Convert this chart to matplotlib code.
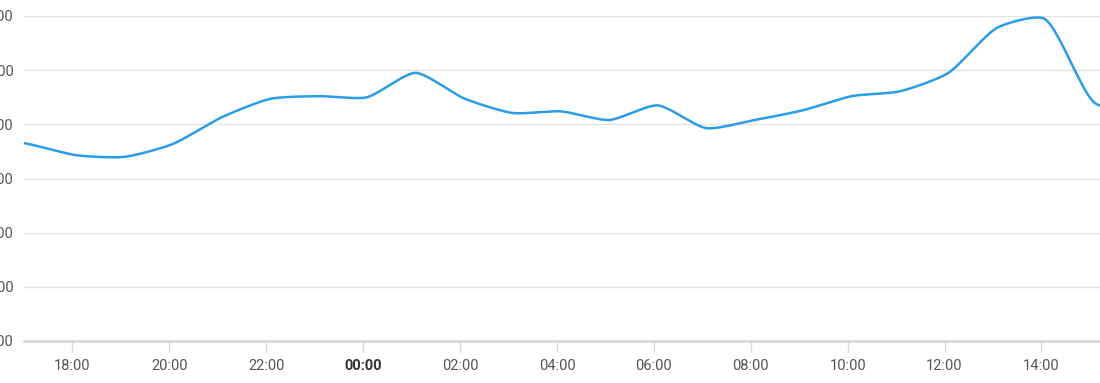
import numpy as np
import matplotlib
matplotlib.use("Agg")
import matplotlib.pyplot as plt

plt.rcParams['font.family'] = ['Roboto', 'DejaVu Sans']

# hourly samples (hour of day, continuing past midnight as 24+), taken ~5 min past the hour
hours = [16.08, 17.08, 18.08, 19.08, 20.08, 21.08, 22.08, 23.08, 24.08, 25.08, 26.08, 27.08,
         28.08, 29.08, 30.08, 31.08, 32.08, 33.08, 34.08, 35.08, 36.08, 37.08, 38.08, 39.08, 40.08]
values = [480, 464, 443, 440, 464, 513, 547, 552, 550, 595, 548, 521,
          524, 508, 535, 493, 508, 526, 552, 561, 595, 678, 694, 541, 520]
tick_hours = [18, 20, 22, 24, 26, 28, 30, 32, 34, 36, 38]
tick_labels = ["18:00", "20:00", "22:00", "00:00", "02:00", "04:00", "06:00", "08:00", "10:00", "12:00", "14:00"]
y_ticks = [100, 200, 300, 400, 500, 600, 700]

PX_PER_H = 48.45
PX_PER_V = 325 / 600.0

def tension_curve(x, y, t=0.22, n=24):
    # cubic bezier through points, Chart.js style control points (computed in pixel space)
    X = np.asarray(x, float) * PX_PER_H
    Y = np.asarray(y, float) * PX_PER_V
    m = len(X)
    cpp = np.zeros((m, 2)); cpn = np.zeros((m, 2))
    for i in range(m):
        p1 = np.array([X[i], Y[i]])
        p0 = np.array([X[i-1], Y[i-1]]) if i > 0 else p1
        p2 = np.array([X[i+1], Y[i+1]]) if i < m-1 else p1
        d01 = np.hypot(*(p1 - p0)); d12 = np.hypot(*(p2 - p1))
        tot = d01 + d12 if d01 + d12 > 0 else 1
        fa = t * d01 / tot; fb = t * d12 / tot
        cpp[i] = p1 - fa * (p2 - p0)
        cpn[i] = p1 + fb * (p2 - p0)
    xs, ys = [], []
    s = np.linspace(0, 1, n, endpoint=False)[:, None]
    for i in range(m - 1):
        P0 = np.array([X[i], Y[i]]); P3 = np.array([X[i+1], Y[i+1]])
        P1 = cpn[i]; P2 = cpp[i+1]
        B = (1-s)**3*P0 + 3*(1-s)**2*s*P1 + 3*(1-s)*s**2*P2 + s**3*P3
        xs.append(B[:, 0]); ys.append(B[:, 1])
    xs.append([X[-1]]); ys.append([Y[-1]])
    return np.concatenate(xs) / PX_PER_H, np.concatenate(ys) / PX_PER_V

fig = plt.figure(figsize=(11, 3.83), dpi=100)
ax = fig.add_axes([24/1100, 42/383, 1 - 24/1100, (341-16)/383])

sx, sy = tension_curve(hours, values)
ax.plot(sx, sy, color="#2b9de6", lw=1.8, solid_capstyle="round", solid_joinstyle="round", zorder=3)

ax.set_xlim(17, 17 + (1100-24)/PX_PER_H)
ax.set_ylim(100, 700)
ax.set_yticks(y_ticks)
ax.set_yticklabels([str(v) for v in y_ticks])
ax.grid(axis="y", color="#e3e3e3", lw=1)
ax.set_axisbelow(True)
for s in ("top", "right", "left"):
    ax.spines[s].set_visible(False)
ax.spines["bottom"].set_color("#d9d9d9")
ax.spines["bottom"].set_linewidth(2)
ax.tick_params(axis="y", length=0, pad=7.5, labelsize=10.5, labelcolor="#555555")
ax.set_xticks(tick_hours)
ax.set_xticklabels(tick_labels)
ax.tick_params(axis="x", length=8, width=1, color="#d9d9d9", pad=5, labelsize=10.5, labelcolor="#555555")
for lab in ax.get_xticklabels():
    if lab.get_text() == "00:00":
        lab.set_fontweight("bold")
        lab.set_color("#333333")

fig.savefig("out.png", dpi=100)
